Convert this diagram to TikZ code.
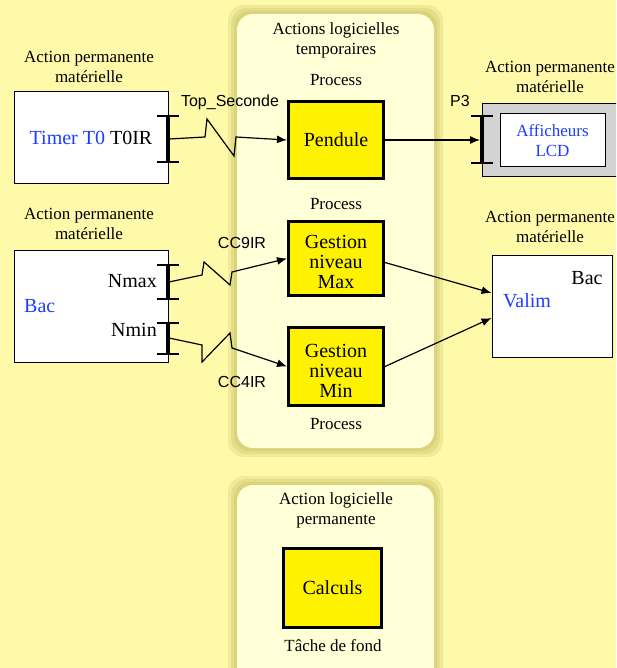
\documentclass[tikz,border=0pt]{standalone}
\usepackage{fontspec}
\setmainfont{Liberation Serif}
\setsansfont{Liberation Sans}
\usetikzlibrary{arrows.meta,positioning}

\definecolor{fondjaune}{RGB}{255,250,170}
\definecolor{panneau}{RGB}{255,255,216}
\definecolor{ombre}{RGB}{160,150,50}
\definecolor{bleutxt}{RGB}{30,60,255}
\definecolor{grislcd}{RGB}{211,211,211}

\tikzset{
  materiel/.style={draw=black, line width=1pt, fill=white, inner sep=0pt},
  process/.style={draw=black, line width=3pt, fill=yellow, align=center,
    inner sep=0pt, font=\fontsize{20}{20}\selectfont},
  titre/.style={align=center, inner sep=0pt, font=\fontsize{17}{20}\selectfont},
  texte/.style={inner sep=0pt, font=\fontsize{20}{20}\selectfont},
  signal/.style={inner sep=0pt, font=\sffamily\fontsize{16}{18}\selectfont},
  lien/.style={line width=1.2pt, -{Latex[length=10pt,width=8pt]}},
}

% barre de port : x, y haut, y bas
\newcommand{\portbar}[3]{%
  \draw[line width=4pt] (#1,#2) -- (#1,#3);
  \draw[line width=1.3pt] (#1-11,#2) -- (#1+11,#2) (#1-11,#3) -- (#1+11,#3);
}
% panneau arrondi avec ombre : x1, y1, x2, y2
\newcommand{\panneauombre}[4]{%
  \foreach \d in {9,6,3}
    \fill[ombre, opacity=0.15, rounded corners=16pt] (#1-\d,#2-\d) rectangle (#3+\d,#4+\d);
  \fill[panneau, rounded corners=16pt] (#1,#2) rectangle (#3,#4);
}

\begin{document}
\begin{tikzpicture}[x=1pt, y=-1pt]
\useasboundingbox (0,0) rectangle (616,668);
\clip (0,0) rectangle (616,668);
\fill[fondjaune] (0,0) rectangle (616,668);

% actions logicielles
\panneauombre{237}{14}{434}{448}
\panneauombre{237}{485}{434}{700}

\node[titre] (titreTempo) at (336,40) {Actions logicielles\\temporaires};
\node[titre] (procA) at (336,80) {Process};
\node[process, minimum width=95pt, minimum height=77pt] (pendule) at (336,140) {Pendule};
\node[titre] (procB) at (336,204) {Process};
\node[process, minimum width=95pt, minimum height=74pt] (max) at (336,258.5) {\rule{0pt}{21pt}Gestion\\niveau\\Max};
\node[process, minimum width=95pt, minimum height=78pt] (min) at (336,366.5) {\rule{0pt}{21pt}Gestion\\niveau\\Min};
\node[titre] (procC) at (336,424) {Process};

\node[titre] (titrePerm) at (336,510) {Action logicielle\\permanente};
\node[process, minimum width=98pt, minimum height=79pt] (calculs) at (332.5,588) {Calculs};
\node[titre] (fond) at (333,646) {Tâche de fond};

% actions materielles
\node[titre] (titreTimer) at (89,67) {Action permanente\\matérielle};
\node[materiel, minimum width=154pt, minimum height=92pt, font=\fontsize{20}{20}\selectfont] (timer) at (91,138)
  {\textcolor{bleutxt}{Timer T0} T0IR};

\node[titre] (titreBac) at (89,224) {Action permanente\\matérielle};
\node[materiel, minimum width=154pt, minimum height=112pt] (bac) at (91,306) {};
\node[texte, text=bleutxt, anchor=west] (bacNom) at (24,306) {Bac};
\node[texte, anchor=east] (nmax) at (157,281) {Nmax};
\node[texte, anchor=east] (nmin) at (157,330) {Nmin};

\node[titre] (titreLCD) at (550,77) {Action permanente\\matérielle};
\node[materiel, fill=grislcd, minimum width=150pt, minimum height=73pt] (boitierLCD) at (557,140.5) {};
\node[materiel, minimum width=105pt, minimum height=53pt, titre, text=bleutxt] (lcd) at (552.5,140.5) {Afficheurs\\LCD};

\node[titre] (titreValim) at (550,227) {Action permanente\\matérielle};
\node[materiel, minimum width=120pt, minimum height=102pt] (valim) at (552,306) {};
\node[texte] (bacValim) at (587,278) {Bac};
\node[texte, text=bleutxt, anchor=west] (valimNom) at (503,301) {Valim};

% ports
\portbar{168}{116}{162}
\portbar{168}{265}{299}
\portbar{168}{323}{354}
\portbar{482}{116}{163}
\coordinate (portT0IR) at (169,139);
\coordinate (portNmax) at (169,282);
\coordinate (portNmin) at (169,338);
\coordinate (portP3) at (480,140);

\node[signal] (topSec) at (230,102) {Top\_Seconde};
\node[signal] (p3) at (460,101) {P3};
\node[signal] (cc9) at (242,243) {CC9IR};
\node[signal] (cc4) at (242,382) {CC4IR};

% liaisons
\draw[lien] (portT0IR) -- ++(36,-2) -- ++(2,-18) -- ++(27,37) -- ++(2,-19) -- (pendule.west);
\draw[lien] (portNmax) -- ++(33,-7) -- ++(2,-13) -- ++(26,23) -- ++(2,-13) -- (max.west);
\draw[lien] (portNmin) -- ++(33,7) -- ++(0,17) -- ++(28,-29) -- ++(2,15) -- (min.west);
\draw[lien] (pendule.east) -- (portP3);
\draw[lien] ([yshift=-4pt]max.east) -- ([yshift=13pt]valim.west);
\draw[lien] (min.east) -- ([yshift=-12pt]valim.west);
\end{tikzpicture}
\end{document}
